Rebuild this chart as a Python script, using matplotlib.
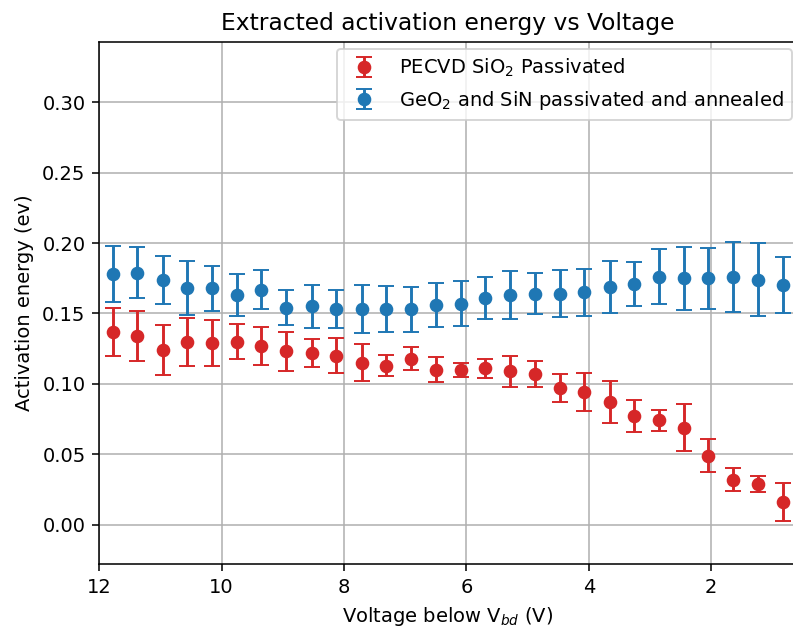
import matplotlib
matplotlib.use("Agg")
import matplotlib.pyplot as plt

# voltage below breakdown (V)
volt = [11.77, 11.38, 10.96, 10.57, 10.15, 9.75, 9.35, 8.94, 8.53, 8.13,
        7.71, 7.32, 6.91, 6.50, 6.09, 5.70, 5.29, 4.88, 4.47, 4.08,
        3.66, 3.27, 2.86, 2.45, 2.05, 1.64, 1.23, 0.82]

# PECVD SiO2 passivated
ea_sio2 = [0.137, 0.134, 0.124, 0.130, 0.129, 0.130, 0.127, 0.123, 0.122, 0.120,
           0.115, 0.113, 0.118, 0.110, 0.110, 0.111, 0.109, 0.107, 0.097, 0.094,
           0.087, 0.077, 0.074, 0.069, 0.049, 0.032, 0.029, 0.016]
err_sio2 = [0.017, 0.0175, 0.018, 0.017, 0.0165, 0.0125, 0.0135, 0.014, 0.010, 0.0125,
            0.013, 0.0075, 0.008, 0.009, 0.005, 0.0065, 0.011, 0.009, 0.010, 0.0135,
            0.015, 0.0115, 0.0075, 0.017, 0.0115, 0.008, 0.0055, 0.0135]

# GeO2 and SiN passivated + annealed
ea_geo2 = [0.178, 0.179, 0.174, 0.168, 0.168, 0.163, 0.167, 0.154, 0.155, 0.153,
           0.153, 0.153, 0.153, 0.156, 0.157, 0.161, 0.163, 0.164, 0.164, 0.165,
           0.169, 0.171, 0.176, 0.175, 0.175, 0.176, 0.174, 0.170]
err_geo2 = [0.020, 0.018, 0.017, 0.019, 0.016, 0.015, 0.014, 0.0125, 0.015, 0.0135,
            0.017, 0.0165, 0.016, 0.0155, 0.016, 0.015, 0.017, 0.0145, 0.0165, 0.0165,
            0.0185, 0.0155, 0.0195, 0.0225, 0.0215, 0.025, 0.026, 0.020]

dpi = 140
fig = plt.figure(figsize=(793 / dpi, 631 / dpi), dpi=dpi)
ax = fig.add_axes([0.125, 0.106, 0.880, 0.828])

ax.errorbar(volt, ea_sio2, yerr=err_sio2, fmt='o', color='#d62728',
            capsize=4, label='PECVD SiO$_2$ Passivated')
ax.errorbar(volt, ea_geo2, yerr=err_geo2, fmt='o', color='#1f77b4',
            capsize=4, label='GeO$_2$ and SiN passivated and annealed')

ax.set_xlim(12, 0.6)
ax.set_ylim(-0.028, 0.343)
ax.set_xticks([12, 10, 8, 6, 4, 2])
ax.set_yticks([0.00, 0.05, 0.10, 0.15, 0.20, 0.25, 0.30])
ax.grid(True)

ax.set_title('Extracted activation energy vs Voltage')
ax.set_xlabel('Voltage below V$_{bd}$ (V)')
ax.set_ylabel('Activation energy (ev)')

ax.legend(loc='upper right', bbox_to_anchor=(792 / 793, 1 - 49 / 631),
          bbox_transform=fig.transFigure, borderaxespad=0)

plt.savefig('out.png', dpi=dpi)
